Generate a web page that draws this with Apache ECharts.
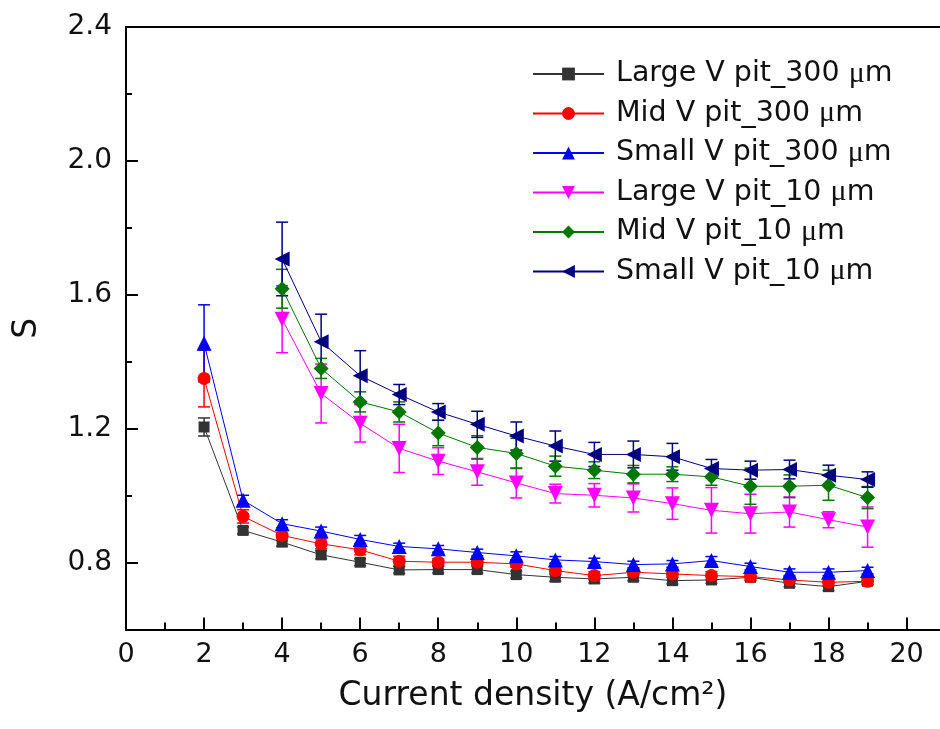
<!DOCTYPE html>
<html>
<head>
<meta charset="utf-8">
<script src="https://cdn.jsdelivr.net/npm/echarts@6/dist/echarts.min.js"></script>
<style>
  html, body { margin: 0; padding: 0; background: #fff; }
  #chart { width: 940px; height: 729px; }
</style>
</head>
<body>
<div id="chart"></div>
<script>
// current density (A/cm2)
const x300 = [2, 3, 4, 5, 6, 7, 8, 9, 10, 11, 12, 13, 14, 15, 16, 17, 18, 19];
const x10 = [4, 5, 6, 7, 8, 9, 10, 11, 12, 13, 14, 15, 16, 17, 18, 19];

// S values
const large300 = [1.205, 0.896, 0.861, 0.823, 0.801, 0.778, 0.779, 0.779, 0.764, 0.756, 0.751, 0.756, 0.746, 0.748, 0.756, 0.738, 0.728, 0.744];
const mid300 = [1.350, 0.938, 0.881, 0.856, 0.838, 0.804, 0.801, 0.801, 0.796, 0.776, 0.761, 0.771, 0.766, 0.761, 0.758, 0.748, 0.741, 0.744];
const small300 = [1.455, 0.986, 0.916, 0.894, 0.869, 0.848, 0.841, 0.830, 0.820, 0.808, 0.803, 0.794, 0.796, 0.806, 0.788, 0.771, 0.771, 0.776];
const large10 = [1.527, 1.305, 1.216, 1.141, 1.103, 1.071, 1.038, 1.006, 1.001, 0.993, 0.976, 0.956, 0.946, 0.951, 0.928, 0.906];
const mid10 = [1.618, 1.380, 1.280, 1.250, 1.187, 1.144, 1.126, 1.088, 1.076, 1.064, 1.064, 1.056, 1.028, 1.028, 1.031, 0.994];
const small10 = [1.707, 1.460, 1.358, 1.302, 1.250, 1.213, 1.178, 1.148, 1.123, 1.123, 1.116, 1.081, 1.076, 1.078, 1.061, 1.048];

// error bar half widths
const large300Err = [0.027, 0.010, 0.012, 0.012, 0.010, 0.010, 0.010, 0.010, 0.010, 0.012, 0.012, 0.010, 0.010, 0.010, 0.010, 0.010, 0.012, 0.010];
const mid300Err = [0.085, 0.020, 0.015, 0.015, 0.015, 0.015, 0.010, 0.010, 0.010, 0.012, 0.012, 0.010, 0.010, 0.012, 0.010, 0.010, 0.010, 0.010];
const small300Err = [0.115, 0.015, 0.012, 0.012, 0.012, 0.010, 0.010, 0.010, 0.012, 0.010, 0.010, 0.010, 0.010, 0.012, 0.010, 0.010, 0.010, 0.010];
const large10Err = [0.100, 0.088, 0.056, 0.072, 0.040, 0.040, 0.045, 0.028, 0.035, 0.042, 0.047, 0.068, 0.058, 0.045, 0.024, 0.060];
const mid10Err = [0.058, 0.030, 0.030, 0.030, 0.038, 0.035, 0.045, 0.030, 0.025, 0.026, 0.022, 0.025, 0.054, 0.034, 0.045, 0.033];
const small10Err = [0.110, 0.082, 0.075, 0.030, 0.025, 0.039, 0.042, 0.045, 0.036, 0.040, 0.040, 0.027, 0.027, 0.028, 0.030, 0.023];

const xMajor = [0, 2, 4, 6, 8, 10, 12, 14, 16, 18, 20];
const xMinor = [1, 3, 5, 7, 9, 11, 13, 15, 17, 19];
const yMajor = [0.8, 1.2, 1.6, 2.0, 2.4];
const yMinor = [1.0, 1.4, 1.8, 2.2];

const FONT = 'DejaVu Sans';
const X_MAX = 20.856; // axis runs on past 20 to the right edge

const defs = [
  { name: 'Large V pit_300 μm', x: x300, y: large300, err: large300Err, color: '#333333', symbol: 'rect', size: 11 },
  { name: 'Mid V pit_300 μm', x: x300, y: mid300, err: mid300Err, color: '#ff0000', symbol: 'circle', size: 13 },
  { name: 'Small V pit_300 μm', x: x300, y: small300, err: small300Err, color: '#0000ff', symbol: 'triangle', size: 15 },
  { name: 'Large V pit_10 μm', x: x10, y: large10, err: large10Err, color: '#ff00ff', symbol: 'path://M0,0 L10,0 L5,9 Z', size: 15 },
  { name: 'Mid V pit_10 μm', x: x10, y: mid10, err: mid10Err, color: '#007700', symbol: 'diamond', size: 15 },
  { name: 'Small V pit_10 μm', x: x10, y: small10, err: small10Err, color: '#000080', symbol: 'path://M0,5 L9,0 L9,10 Z', size: 15 }
];

function errRender(params, api) {
  const x = api.value(0);
  const lo = api.coord([x, api.value(1)]);
  const hi = api.coord([x, api.value(2)]);
  const w = 6;
  const style = { stroke: api.visual('color'), lineWidth: 1.5 };
  return {
    type: 'group',
    children: [
      { type: 'line', shape: { x1: lo[0], y1: lo[1], x2: hi[0], y2: hi[1] }, style: style },
      { type: 'line', shape: { x1: lo[0] - w, y1: lo[1], x2: lo[0] + w, y2: lo[1] }, style: style },
      { type: 'line', shape: { x1: hi[0] - w, y1: hi[1], x2: hi[0] + w, y2: hi[1] }, style: style }
    ]
  };
}

const series = [];
defs.forEach(function (d) {
  series.push({
    name: d.name + ' err',
    type: 'custom',
    renderItem: errRender,
    itemStyle: { color: d.color },
    data: d.x.map(function (x, i) { return [x, d.y[i] - d.err[i], d.y[i] + d.err[i]]; }),
    z: 2,
    silent: true
  });
});
defs.forEach(function (d) {
  series.push({
    name: d.name,
    type: 'line',
    data: d.x.map(function (x, i) { return [x, d.y[i]]; }),
    symbol: d.symbol,
    symbolSize: d.size,
    showAllSymbol: true,
    lineStyle: { color: d.color, width: 1 },
    itemStyle: { color: d.color },
    z: 3
  });
});

const chart = echarts.init(document.getElementById('chart'));
chart.setOption({
  animation: false,
  backgroundColor: '#ffffff',
  textStyle: { fontFamily: FONT },
  grid: { left: 126, top: 27, width: 814, height: 602.5 },
  legend: {
    data: defs.map(function (d) { return d.name; }),
    orient: 'vertical',
    left: 527, top: 54,
    itemWidth: 71, itemHeight: 16, itemGap: 9.5,
    formatter: function (n) { return n.replace('μ', '{mu|μ}'); },
    textStyle: {
      fontFamily: FONT, fontSize: 28.5, color: '#111', lineHeight: 30, padding: [0, 0, 0, 7],
      rich: { mu: { fontFamily: 'Liberation Serif', fontSize: 30, color: '#111' } }
    }
  },
  xAxis: [
    {
      type: 'value', min: 0, max: X_MAX, interval: 1, position: 'bottom',
      name: 'Current density (A/cm²)', nameLocation: 'middle', nameGap: 50,
      nameTextStyle: { fontFamily: FONT, fontSize: 33, color: '#111' },
      axisLine: { lineStyle: { color: '#000', width: 2 } },
      axisTick: { inside: true, length: 12, customValues: xMajor, lineStyle: { color: '#000', width: 2 } },
      axisLabel: { customValues: xMajor, margin: 12, fontFamily: FONT, fontSize: 27, color: '#111' },
      splitLine: { show: false }
    },
    {
      type: 'value', min: 0, max: X_MAX, interval: 1, position: 'bottom',
      axisLine: { show: false },
      axisTick: { inside: true, length: 7, customValues: xMinor, lineStyle: { color: '#000', width: 2 } },
      axisLabel: { show: false },
      splitLine: { show: false }
    },
    {
      type: 'value', min: 0, max: X_MAX, interval: 1, position: 'top',
      axisLine: { lineStyle: { color: '#000', width: 2 } },
      axisTick: { show: false },
      axisLabel: { show: false },
      splitLine: { show: false }
    }
  ],
  yAxis: [
    {
      type: 'value', min: 0.6, max: 2.4, interval: 0.2, position: 'left',
      name: 'S', nameLocation: 'middle', nameGap: 82, nameRotate: 90,
      nameTextStyle: { fontFamily: FONT, fontSize: 33, color: '#111' },
      axisLine: { lineStyle: { color: '#000', width: 2 } },
      axisTick: { inside: true, length: 12, customValues: yMajor, lineStyle: { color: '#000', width: 2 } },
      axisLabel: {
        customValues: yMajor, margin: 14, fontFamily: FONT, fontSize: 28, color: '#111',
        formatter: function (v) { return v.toFixed(1); }
      },
      splitLine: { show: false }
    },
    {
      type: 'value', min: 0.6, max: 2.4, interval: 0.2, position: 'left',
      axisLine: { show: false },
      axisTick: { inside: true, length: 6, customValues: yMinor, lineStyle: { color: '#000', width: 2 } },
      axisLabel: { show: false },
      splitLine: { show: false }
    }
  ],
  series: series
});
</script>
</body>
</html>
